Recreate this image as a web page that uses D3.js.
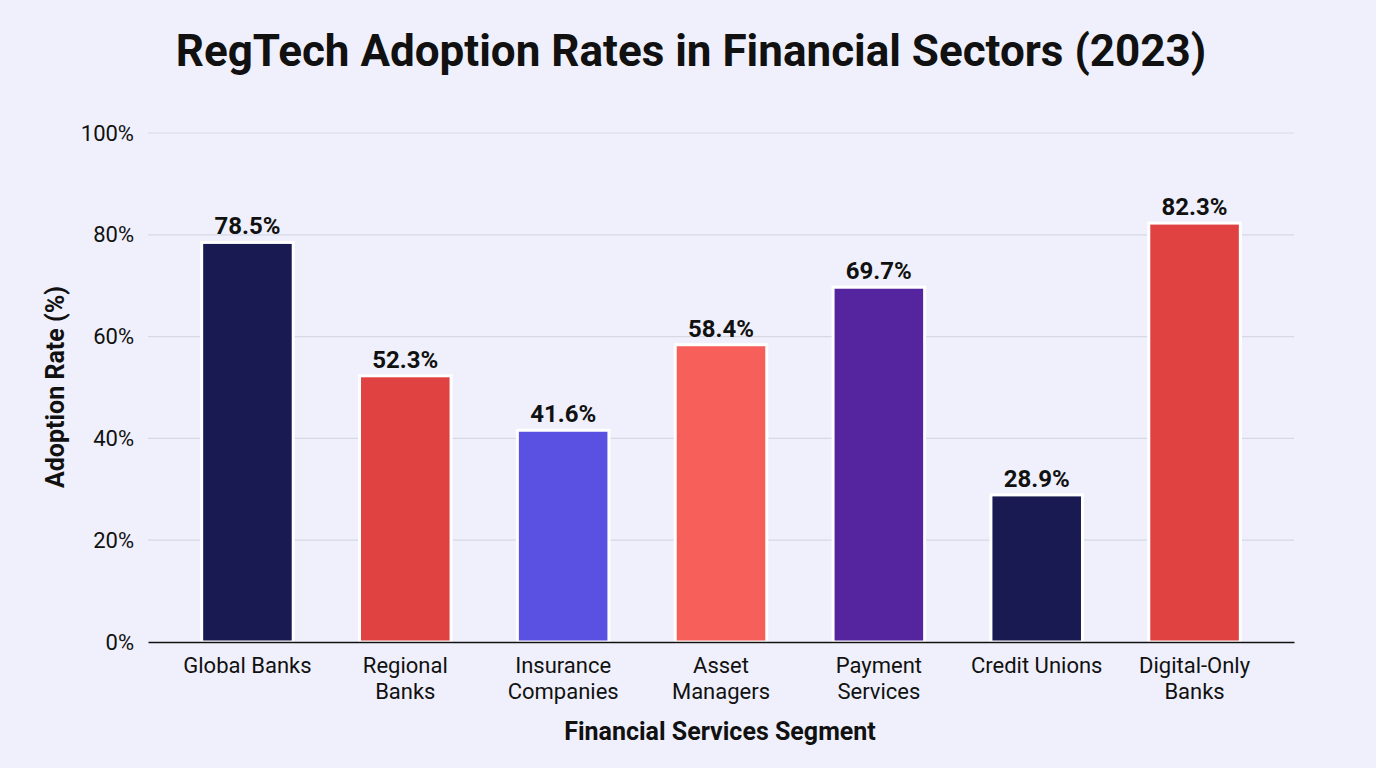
<!DOCTYPE html>
<html>
<head>
<meta charset="utf-8">
<script src="https://cdn.jsdelivr.net/npm/d3@7"></script>
<style>
  html, body { margin: 0; padding: 0; background: #eff0fb; }
  svg { display: block; overflow: visible; }
  text { font-family: Roboto, "Noto Sans", sans-serif; }
</style>
</head>
<body>
<script>
var categories = ['Global Banks', 'Regional Banks', 'Insurance Companies', 'Asset Managers', 'Payment Services', 'Credit Unions', 'Digital-Only Banks']
var labelLines = [['Global Banks'], ['Regional', 'Banks'], ['Insurance', 'Companies'], ['Asset', 'Managers'], ['Payment', 'Services'], ['Credit Unions'], ['Digital-Only', 'Banks']]
var adoption = [78.5, 52.3, 41.6, 58.4, 69.7, 28.9, 82.3]
var barColors = ['#1a1a52', '#e04141', '#5a50e2', '#f75f5b', '#55259f', '#1a1a52', '#e04141']
var yTicks = [0, 20, 40, 60, 80, 100]

var fullWidth = 1376
var fullHeight = 768
var margin = { top: 133, right: 82, bottom: 126, left: 148 }
var innerWidth = fullWidth - margin.left - margin.right
var innerHeight = fullHeight - margin.top - margin.bottom

var svg = d3.select('body')
  .append('svg')
  .attr('width', fullWidth)
  .attr('height', fullHeight)

svg.append('rect')
  .attr('width', fullWidth)
  .attr('height', fullHeight)
  .style('fill', '#eff0fb')

svg.append('text')
  .attr('x', 691)
  .attr('y', 66)
  .attr('text-anchor', 'middle')
  .style('font-size', '44px')
  .style('font-weight', 700)
  .style('fill', '#111')
  .text('RegTech Adoption Rates in Financial Sectors (2023)')

var g = svg.append('g')
  .attr('transform', 'translate(' + margin.left + ',' + margin.top + ')')

var x = d3.scaleBand()
  .domain(categories)
  .range([0, innerWidth])
  .paddingInner(0.42)
  .paddingOuter(0.34)

var y = d3.scaleLinear()
  .domain([0, 100])
  .range([innerHeight, 0])

// gridlines
g.selectAll('.grid')
  .data(yTicks.filter(d => d > 0))
  .enter().append('line')
  .attr('x1', 0)
  .attr('x2', innerWidth)
  .attr('y1', d => y(d))
  .attr('y2', d => y(d))
  .style('stroke', '#d6d8e6')
  .style('stroke-width', 1.2)

// y axis
var yAxis = g.append('g')
  .call(d3.axisLeft(y).tickValues(yTicks).tickFormat(d => d + '%').tickSize(0).tickPadding(14))
yAxis.select('.domain').remove()
yAxis.selectAll('text')
  .style('font-size', '22px')
  .style('fill', '#111')
  .style('font-family', 'Roboto, sans-serif')

// bars
g.selectAll('.bar')
  .data(adoption)
  .enter().append('rect')
  .attr('x', (d, i) => x(categories[i]))
  .attr('y', d => y(d))
  .attr('width', x.bandwidth())
  .attr('height', d => innerHeight - y(d))
  .style('fill', (d, i) => barColors[i])
  .style('stroke', '#fff')
  .style('stroke-width', 3)

// value labels
g.selectAll('.val')
  .data(adoption)
  .enter().append('text')
  .attr('x', (d, i) => x(categories[i]) + x.bandwidth() / 2)
  .attr('y', d => y(d) - 8)
  .attr('text-anchor', 'middle')
  .style('font-size', '24px')
  .style('font-weight', 700)
  .style('fill', '#111')
  .text(d => d.toFixed(1) + '%')

// x axis
var xAxis = g.append('g')
  .attr('transform', 'translate(0,' + innerHeight + ')')
  .call(d3.axisBottom(x).tickSize(0).tickFormat(''))
xAxis.select('.domain')
  .style('stroke', '#111')
  .style('stroke-width', 1.5)

var xl = g.selectAll('.xlab')
  .data(labelLines)
  .enter().append('text')
  .attr('text-anchor', 'middle')
  .attr('transform', (d, i) => 'translate(' + (x(categories[i]) + x.bandwidth() / 2) + ',' + (innerHeight + 31) + ')')
  .style('font-size', '22px')
  .style('fill', '#111')
xl.selectAll('tspan')
  .data(d => d)
  .enter().append('tspan')
  .attr('x', 0)
  .attr('dy', (d, i) => i === 0 ? 0 : 26)
  .text(d => d)

// axis titles
svg.append('text')
  .attr('x', 720)
  .attr('y', 740)
  .attr('text-anchor', 'middle')
  .style('font-size', '25px')
  .style('font-weight', 700)
  .style('fill', '#111')
  .text('Financial Services Segment')

svg.append('text')
  .attr('transform', 'translate(64,387) rotate(-90)')
  .attr('text-anchor', 'middle')
  .style('font-size', '25px')
  .style('font-weight', 700)
  .style('fill', '#111')
  .text('Adoption Rate (%)')
</script>
</body>
</html>
